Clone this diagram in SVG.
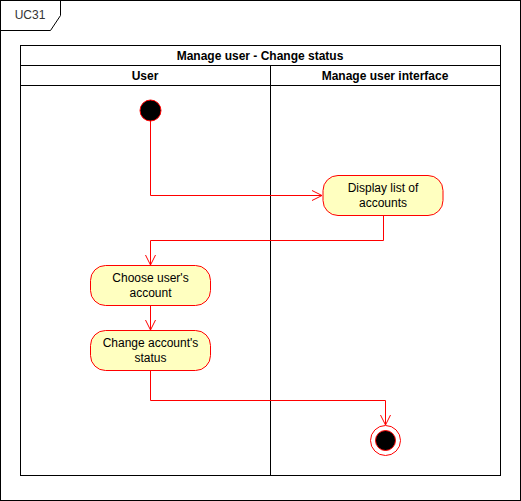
<svg xmlns="http://www.w3.org/2000/svg" width="521" height="501" viewBox="0 0 521 501">
<style>
.frame{fill:#ffffff;stroke:#000000;stroke-width:1}
.ln{fill:none;stroke:#000000;stroke-width:1}
.act{fill:#ffffc0;stroke:#ff0000;stroke-width:1}
.t{font-family:"Liberation Sans",Arial,Helvetica,sans-serif;font-size:12px;fill:#000000;text-anchor:middle}
.b{font-weight:bold}
.conn{fill:none;stroke:#ff0000;stroke-width:1}
</style>
<defs>
<marker id="open" viewBox="0 0 12 12" refX="11" refY="6" markerWidth="12" markerHeight="12" markerUnits="userSpaceOnUse" orient="auto">
<path d="M1,1 L11,6 L1,11" fill="none" stroke="#ff0000" stroke-width="1"/>
</marker>
</defs>
<rect x="0.5" y="0.5" width="520" height="500" fill="#ffffff" stroke="#000000"/>
<g id="frame-tab">
<path class="ln" d="M0.5,30.5 L50.5,30.5 L60.5,15.5 L60.5,0.5"/>
<text class="t" x="30" y="19" style="fill:#333333">UC31</text>
</g>
<g id="swimlane">
<rect class="frame" x="20.5" y="45.5" width="480" height="430"/>
<line class="ln" x1="20.5" y1="65.5" x2="500.5" y2="65.5"/>
<line class="ln" x1="20.5" y1="85.5" x2="500.5" y2="85.5"/>
<line class="ln" x1="270.5" y1="65.5" x2="270.5" y2="475.5"/>
<text class="t b" x="260" y="60">Manage user - Change status</text>
<text class="t b" x="145" y="80">User</text>
<text class="t b" x="385" y="80">Manage user interface</text>
</g>
<g id="connectors">
<path class="conn" d="M150.5,121 L150.5,195.5 L322,195.5" marker-end="url(#open)"/>
<path class="conn" d="M383.5,215 L383.5,240.5 L150.5,240.5 L150.5,265" marker-end="url(#open)"/>
<path class="conn" d="M150.5,305 L150.5,330" marker-end="url(#open)"/>
<path class="conn" d="M150.5,370 L150.5,400.5 L385.5,400.5 L385.5,425" marker-end="url(#open)"/>
</g>
<g id="start">
<circle cx="150.5" cy="110.5" r="10.5" fill="#000000" stroke="#ff0000"/>
</g>
<g id="display-list">
<rect class="act" x="323" y="175.5" width="120" height="40" rx="15" ry="15"/>
<text class="t" x="383" y="192">Display list of</text>
<text class="t" x="383" y="207">accounts</text>
</g>
<g id="choose-account">
<rect class="act" x="90.5" y="265.5" width="120" height="40" rx="15" ry="15"/>
<text class="t" x="150.5" y="282">Choose user's</text>
<text class="t" x="150.5" y="297">account</text>
</g>
<g id="change-status">
<rect class="act" x="90.5" y="330.5" width="120" height="40" rx="15" ry="15"/>
<text class="t" x="150.5" y="347">Change account's</text>
<text class="t" x="150.5" y="362">status</text>
</g>
<g id="end">
<circle cx="385.5" cy="440.5" r="15" fill="#ffffff" stroke="#ff0000"/>
<circle cx="385.5" cy="440.5" r="10" fill="#000000" stroke="#ff0000"/>
</g>
</svg>
